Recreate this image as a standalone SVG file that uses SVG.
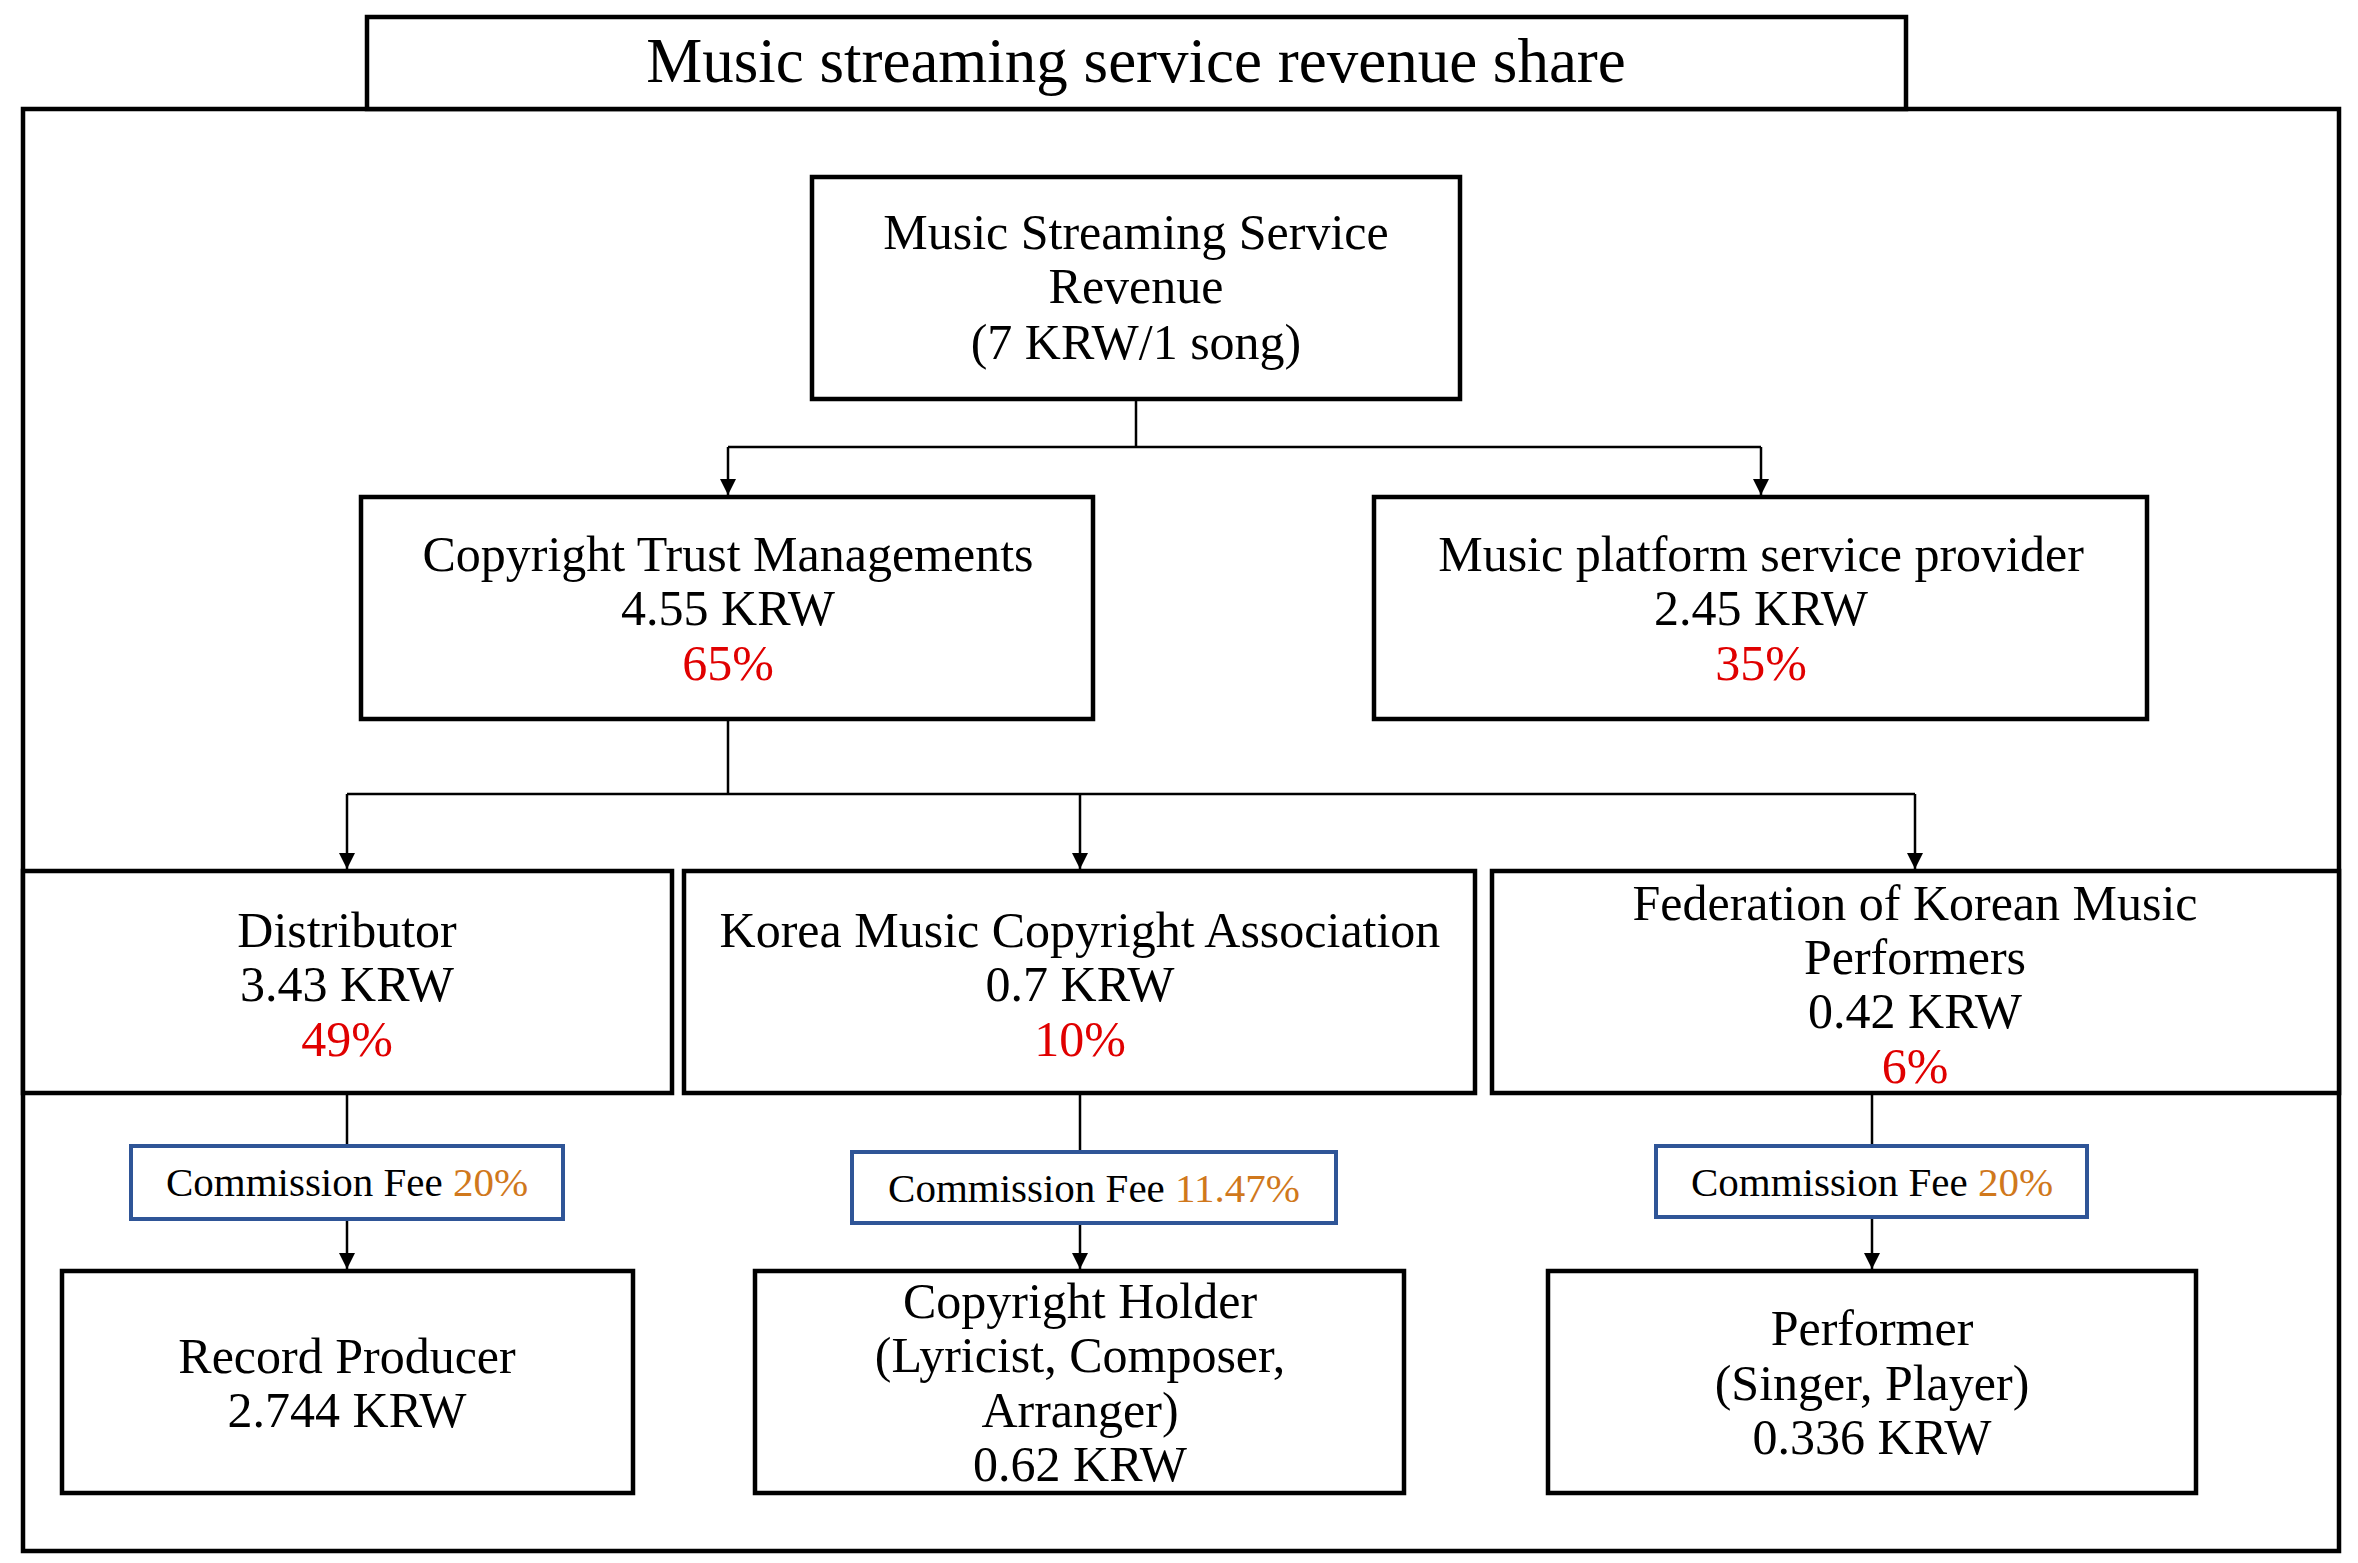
<svg xmlns="http://www.w3.org/2000/svg" width="2358" height="1563" viewBox="0 0 2358 1563">
<defs>
<style>
.b{fill:#fff;stroke:#000;stroke-width:4.5}
.c{fill:#fff;stroke:#2F5597;stroke-width:4}
text{font-family:"Liberation Serif",serif;font-size:50px;text-anchor:middle;fill:#000}
.s{font-size:41px}
.r{fill:#E00000}
.o{fill:#D0781C}
.l{fill:none;stroke:#000;stroke-width:2.5}
</style>
<marker id="ar" viewBox="0 0 10 10" markerWidth="16" markerHeight="16" refX="10" refY="5" orient="auto" markerUnits="userSpaceOnUse"><path d="M0,0 L10,5 L0,10 z" fill="#000"/></marker>
</defs>
<rect width="2358" height="1563" fill="#fff"/>
<rect class="b" x="23" y="109" width="2316" height="1442"/>
<g id="title"><rect class="b" x="367" y="17" width="1539" height="92"/><text x="1136" y="82" style="font-size:63px">Music streaming service revenue share</text></g>
<g id="connectors">
<path class="l" d="M1136,399 V447 M728,447 H1761"/>
<path class="l" d="M728,447 V495" marker-end="url(#ar)"/>
<path class="l" d="M1761,447 V495" marker-end="url(#ar)"/>
<path class="l" d="M728,719 V794 M347,794 H1915"/>
<path class="l" d="M347,794 V869" marker-end="url(#ar)"/>
<path class="l" d="M1080,794 V869" marker-end="url(#ar)"/>
<path class="l" d="M1915,794 V869" marker-end="url(#ar)"/>
<path class="l" d="M347,1093 V1146 M1080,1093 V1152 M1872,1093 V1146"/>
<path class="l" d="M347,1219 V1269" marker-end="url(#ar)"/>
<path class="l" d="M1080,1223 V1269" marker-end="url(#ar)"/>
<path class="l" d="M1872,1217 V1269" marker-end="url(#ar)"/>
</g>
<g id="root"><rect class="b" x="812" y="177" width="648" height="222"/><text x="1136" y="249">Music Streaming Service</text><text x="1136" y="303">Revenue</text><text x="1136" y="359">(7 KRW/1 song)</text></g>
<g id="ctm"><rect class="b" x="361" y="497" width="732" height="222"/><text x="728" y="571">Copyright Trust Managements</text><text x="728" y="625">4.55 KRW</text><text class="r" x="728" y="680">65%</text></g>
<g id="mpsp"><rect class="b" x="1374" y="497" width="773" height="222"/><text x="1761" y="571">Music platform service provider</text><text x="1761" y="625">2.45 KRW</text><text class="r" x="1761" y="680">35%</text></g>
<g id="dist"><rect class="b" x="23" y="871" width="649" height="222"/><text x="347" y="947">Distributor</text><text x="347" y="1001">3.43 KRW</text><text class="r" x="347" y="1056">49%</text></g>
<g id="kmca"><rect class="b" x="684" y="871" width="791" height="222"/><text x="1080" y="947">Korea Music Copyright Association</text><text x="1080" y="1001">0.7 KRW</text><text class="r" x="1080" y="1056">10%</text></g>
<g id="fkmp"><rect class="b" x="1492" y="871" width="847" height="222"/><text x="1915" y="920">Federation of Korean Music</text><text x="1915" y="974">Performers</text><text x="1915" y="1028">0.42 KRW</text><text class="r" x="1915" y="1083">6%</text></g>
<g id="fee1"><rect class="c" x="131" y="1146" width="432" height="73"/><text class="s" x="347" y="1196">Commission Fee <tspan class="o">20%</tspan></text></g>
<g id="fee2"><rect class="c" x="852" y="1152" width="484" height="71"/><text class="s" x="1094" y="1202">Commission Fee <tspan class="o">11.47%</tspan></text></g>
<g id="fee3"><rect class="c" x="1656" y="1146" width="431" height="71"/><text class="s" x="1872" y="1196">Commission Fee <tspan class="o">20%</tspan></text></g>
<g id="rp"><rect class="b" x="62" y="1271" width="571" height="222"/><text x="347" y="1373">Record Producer</text><text x="347" y="1427">2.744 KRW</text></g>
<g id="ch"><rect class="b" x="755" y="1271" width="649" height="222"/><text x="1080" y="1318">Copyright Holder</text><text x="1080" y="1372">(Lyricist, Composer,</text><text x="1080" y="1427">Arranger)</text><text x="1080" y="1481">0.62 KRW</text></g>
<g id="perf"><rect class="b" x="1548" y="1271" width="648" height="222"/><text x="1872" y="1345">Performer</text><text x="1872" y="1400">(Singer, Player)</text><text x="1872" y="1454">0.336 KRW</text></g>
</svg>
